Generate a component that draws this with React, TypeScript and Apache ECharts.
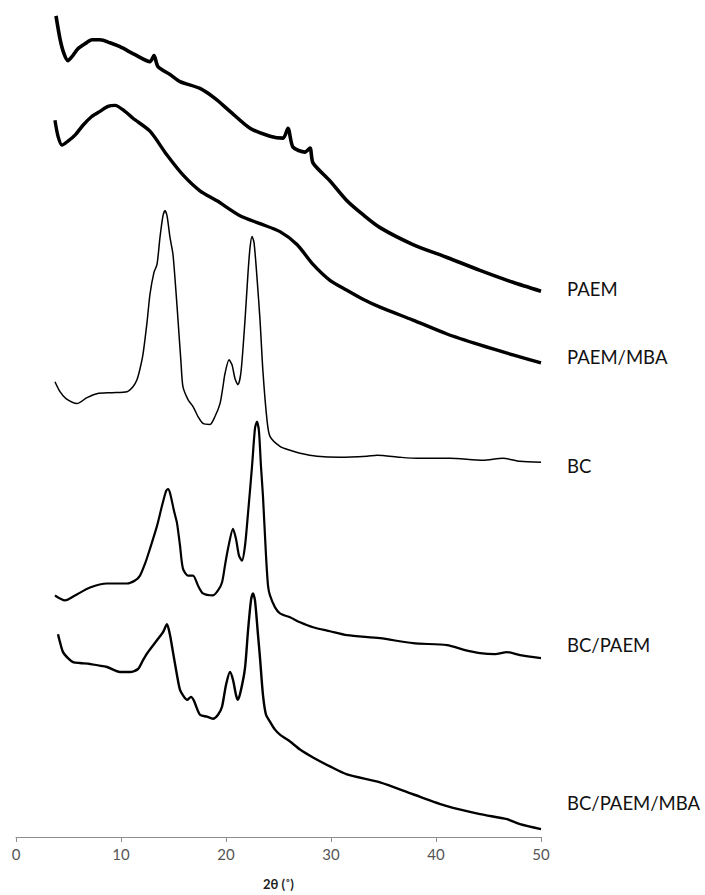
import React, { useEffect, useRef } from "react";
import * as echarts from "echarts";

// 2θ values and relative intensities (a.u., offset stacked)
const paemX = [3.81, 4.19, 4.57, 4.95, 5.33, 5.9, 6.57, 7.24, 8.0, 8.95, 9.9, 11.33, 12.76, 13.14, 13.52, 14.67, 15.62, 17.52, 18.95, 20.38, 22.29, 24.19, 25.43, 25.9, 26.38, 27.52, 28.0, 28.29, 29.9, 31.52, 33.05, 34.67, 37.81, 41.05, 44.19, 47.33, 50];
const paemY = [826, 803, 788, 781, 785, 793, 798, 802, 802, 799, 795, 787, 780, 786, 775, 767, 760, 753, 743, 730, 713, 705, 703, 713, 694, 689, 693, 678, 660, 640, 626, 613, 596, 583, 570, 558, 549];

const paemMbaX = [3.71, 4.0, 4.38, 4.95, 5.62, 6.38, 7.24, 8.0, 8.76, 9.43, 10.38, 11.14, 12.76, 14.38, 15.9, 17.52, 19.14, 21.33, 23.24, 25.14, 26.76, 28.29, 29.9, 31.52, 33.05, 34.67, 37.81, 41.05, 44.19, 47.33, 50];
const paemMbaY = [721, 705, 696, 700, 706, 716, 725, 730, 735, 736, 730, 723, 710, 686, 666, 650, 640, 625, 617, 609, 596, 576, 560, 550, 541, 533, 520, 506, 495, 485, 477];

const bcX = [3.71, 4.19, 4.76, 5.81, 6.76, 7.71, 9.14, 10.57, 11.14, 11.52, 11.81, 12.1, 12.48, 12.76, 13.14, 13.43, 13.71, 14.0, 14.19, 14.38, 14.67, 14.95, 15.24, 15.43, 15.71, 15.9, 16.38, 16.86, 17.33, 17.81, 18.48, 18.95, 19.43, 19.71, 19.9, 20.29, 20.57, 20.86, 21.14, 21.43, 21.81, 22.1, 22.29, 22.48, 22.67, 22.95, 23.24, 23.52, 23.9, 24.19, 25.14, 26.1, 27.05, 28.67, 30.86, 33.43, 34.38, 36.57, 38.19, 41.33, 44.48, 46.38, 48.0, 50];
const bcY = [458, 448, 441, 436, 442, 446, 447, 448, 453, 460, 471, 486, 518, 546, 568, 576, 603, 625, 630, 625, 603, 586, 548, 520, 478, 453, 440, 433, 423, 416, 415, 423, 436, 453, 466, 480, 475, 461, 455, 468, 520, 568, 593, 604, 598, 563, 520, 468, 420, 403, 393, 389, 386, 383, 382, 383, 384, 382, 381, 381, 379, 381, 378, 377];

const bcPaemX = [3.71, 4.19, 4.67, 5.62, 7.05, 8.67, 10.57, 11.33, 11.81, 12.29, 12.76, 13.43, 13.9, 14.29, 14.48, 14.67, 15.05, 15.33, 15.62, 15.9, 16.38, 16.86, 17.33, 17.81, 18.76, 19.24, 19.62, 19.9, 20.19, 20.67, 20.95, 21.24, 21.52, 21.81, 22.1, 22.48, 22.76, 22.95, 23.14, 23.33, 23.52, 23.81, 24.0, 24.19, 24.67, 25.14, 26.1, 27.05, 28.29, 29.9, 31.52, 34.67, 37.81, 41.05, 42.76, 44.19, 45.62, 46.76, 48.0, 50];
const bcPaemY = [243, 240, 238, 243, 251, 255, 255, 258, 263, 275, 290, 313, 333, 348, 350, 346, 328, 316, 293, 270, 263, 263, 253, 245, 243, 248, 256, 273, 290, 310, 300, 283, 278, 293, 326, 373, 411, 418, 408, 373, 343, 283, 253, 243, 231, 225, 221, 216, 211, 207, 203, 200, 195, 193, 188, 185, 184, 186, 183, 180];

const bcPaemMbaX = [4.0, 4.19, 4.48, 4.95, 5.43, 6.1, 7.05, 8.67, 9.9, 10.86, 11.62, 12.1, 12.57, 13.43, 14.0, 14.38, 14.67, 14.95, 15.33, 15.62, 16.0, 16.29, 16.67, 16.95, 17.52, 18.19, 18.76, 19.24, 19.62, 20.0, 20.38, 20.67, 20.95, 21.14, 21.43, 21.81, 22.1, 22.38, 22.57, 22.76, 23.05, 23.24, 23.52, 23.81, 24.19, 24.67, 25.14, 26.1, 27.05, 28.29, 29.9, 31.52, 34.67, 37.81, 41.05, 44.19, 46.76, 48.0, 50];
const bcPaemMbaY = [204, 196, 186, 180, 176, 175, 174, 171, 166, 166, 169, 178, 186, 198, 206, 214, 203, 186, 163, 148, 141, 138, 141, 137, 123, 121, 119, 123, 131, 153, 166, 158, 143, 138, 148, 170, 208, 238, 245, 238, 203, 180, 143, 123, 116, 108, 103, 96, 88, 80, 71, 63, 55, 43, 31, 23, 18, 13, 8];

const seriesNames = ["PAEM", "PAEM/MBA", "BC", "BC/PAEM", "BC/PAEM/MBA"];
const xTicks = [0, 10, 20, 30, 40, 50];
const axisTitle = "2θ (˚)";

const zip = (xs: number[], ys: number[]) => xs.map((x, i) => [x, ys[i]]);

export default function App() {
  const ref = useRef<HTMLDivElement>(null);
  useEffect(() => {
    if (!ref.current) return;
    const chart = echarts.init(ref.current, null, { renderer: "svg" });
    const data = [
      zip(paemX, paemY),
      zip(paemMbaX, paemMbaY),
      zip(bcX, bcY),
      zip(bcPaemX, bcPaemY),
      zip(bcPaemMbaX, bcPaemMbaY),
    ];
    const widths = [3.6, 3.4, 1.5, 2.2, 2.4];
    const labelY = [289, 357, 466, 645, 803];
    const font = "Lato, 'Open Sans', sans-serif";
    chart.setOption({
      animation: false,
      backgroundColor: "#ffffff",
      grid: { left: 16, right: 164, top: 0, bottom: 53 },
      xAxis: {
        type: "value",
        min: xTicks[0],
        max: xTicks[xTicks.length - 1],
        interval: 10,
        name: axisTitle,
        nameLocation: "middle",
        nameGap: 40,
        nameTextStyle: { fontFamily: font, fontWeight: "bold", fontSize: 13, color: "#222" },
        axisLine: { show: true, lineStyle: { color: "#8c8c8c", width: 1 } },
        axisTick: { show: true, length: 5, lineStyle: { color: "#8c8c8c" } },
        axisLabel: { fontFamily: font, fontSize: 15, color: "#555", margin: 9 },
        splitLine: { show: false },
      },
      yAxis: { type: "value", min: 0, max: 842, show: false },
      series: data.map((d, i) => ({
        name: seriesNames[i],
        type: "line",
        data: d,
        showSymbol: false,
        smooth: 0.25,
        lineStyle: { color: "#000", width: widths[i], join: "round" },
        itemStyle: { color: "#000" },
      })),
      graphic: seriesNames.map((n, i) => ({
        type: "text",
        left: 567,
        top: labelY[i] - 10,
        style: { text: n, fontFamily: font, fontSize: 18.5, fill: "#111" },
      })),
    });
    return () => chart.dispose();
  }, []);
  return <div ref={ref} style={{ position: "fixed", left: 0, top: 0, width: 705, height: 895 }} />;
}
